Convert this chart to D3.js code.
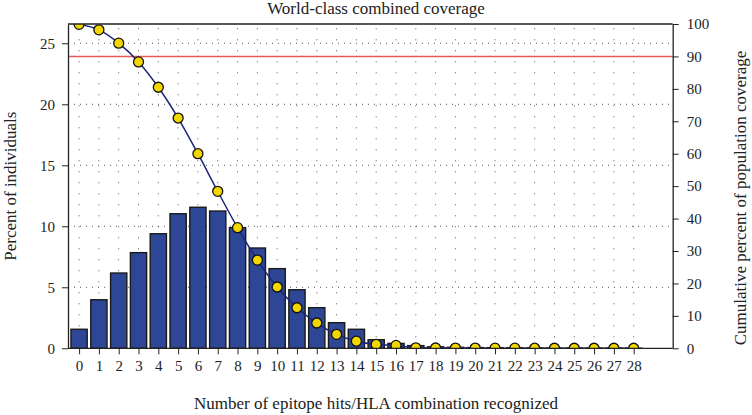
<!DOCTYPE html>
<html>
<head>
<meta charset="utf-8">
<script src="https://cdn.jsdelivr.net/npm/d3@7"></script>
<style>
  body { margin: 0; background: #fff; }
  svg { display: block; }
  text { font-family: "Liberation Serif", "DejaVu Serif", serif; fill: #222; }
</style>
</head>
<body>
<svg id="chart" width="752" height="415"></svg>
<script>
// ---- Data ----
const hits = d3.range(0, 29); // categories 0..28
const percentIndividuals = [1.56, 3.98, 6.17, 7.84, 9.39, 11.03, 11.56, 11.25, 9.89, 8.22,
  6.53, 4.80, 3.33, 2.10, 1.56, 0.70, 0.40, 0.22, 0.12, 0.08, 0.06, 0.05, 0.04, 0.03, 0.02, 0.02, 0.01, 0.01, 0.01];
const cumulativeCoverage = [99.9, 98.2, 94.1, 88.3, 80.5, 71.0, 60.0, 48.4, 37.2, 27.2,
  18.9, 12.5, 7.8, 4.3, 2.2, 1.2, 0.9, 0.15, 0.1, 0.08, 0.06, 0.05, 0.04, 0.03, 0.02, 0.02, 0.01, 0.01, 0.01];
const leftTicks = [0, 5, 10, 15, 20, 25];
const rightTicks = [0, 10, 20, 30, 40, 50, 60, 70, 80, 90, 100];
const thresholdLine = 90;
const titleText = "World-class combined coverage";
const xTitle = "Number of epitope hits/HLA combination recognized";
const yLeftTitle = "Percent of individuals";
const yRightTitle = "Cumulative percent of population coverage";

// ---- Layout ----
const svg = d3.select("#chart");
const W = 752, H = 415;
const m = { left: 68, right: W - 672.7, top: 24, bottom: H - 348.3 };
const x0 = m.left, x1 = W - m.right, y0 = H - m.bottom, y1 = m.top;

const x = d3.scaleLinear().domain([-0.56, 29.97]).range([x0, x1]);
const yL = d3.scaleLinear().domain([0, 26.58]).range([y0, y1]);
const yR = d3.scaleLinear().domain([0, 100]).range([y0, y1]);
const step = x(1) - x(0);
const barW = step * 0.82;

svg.append("defs").append("clipPath").attr("id", "plotclip")
  .append("rect").attr("x", x0).attr("y", y1).attr("width", x1 - x0).attr("height", y0 - y1);

// Grid
const grid = svg.append("g");
grid.selectAll("line.v").data(hits).join("line")
  .attr("x1", d => x(d)).attr("x2", d => x(d))
  .attr("y1", y0).attr("y2", y1)
  .attr("stroke", "#555").attr("stroke-width", 1)
  .attr("stroke-dasharray", "1,10");
grid.selectAll("line.h").data(leftTicks.filter(d => d > 0)).join("line")
  .attr("x1", x0).attr("x2", x1)
  .attr("y1", d => yL(d)).attr("y2", d => yL(d))
  .attr("stroke", "#555").attr("stroke-width", 1)
  .attr("stroke-dasharray", "1,5");

// Threshold line
svg.append("line")
  .attr("x1", x0).attr("x2", x1)
  .attr("y1", yR(thresholdLine)).attr("y2", yR(thresholdLine))
  .attr("stroke", "#e8585a").attr("stroke-width", 1.6);

// Bars
const plot = svg.append("g").attr("clip-path", "url(#plotclip)");
plot.selectAll("rect.bar").data(hits).join("rect")
  .attr("class", "bar")
  .attr("x", d => x(d) - barW / 2)
  .attr("width", barW)
  .attr("y", d => yL(percentIndividuals[d]))
  .attr("height", d => y0 - yL(percentIndividuals[d]))
  .attr("fill", "#2d4796")
  .attr("stroke", "#1a1a1a").attr("stroke-width", 1.4);

// Cumulative line
const line = d3.line()
  .x(d => x(d))
  .y(d => yR(cumulativeCoverage[d]))
  .curve(d3.curveMonotoneX);
plot.append("path").datum(hits)
  .attr("d", line)
  .attr("fill", "none")
  .attr("stroke", "#1c2678").attr("stroke-width", 1.5);

plot.selectAll("circle.pt").data(hits).join("circle")
  .attr("cx", d => x(d))
  .attr("cy", d => yR(cumulativeCoverage[d]))
  .attr("r", 5)
  .attr("fill", "#f2d600")
  .attr("stroke", "#111").attr("stroke-width", 1.3);

// Frame (top)
svg.append("line").attr("x1", x0).attr("x2", x1).attr("y1", y1).attr("y2", y1)
  .attr("stroke", "#222").attr("stroke-width", 1.3);

// Axes
const fontSize = "15px";
const axL = svg.append("g").attr("transform", `translate(${x0},0)`)
  .call(d3.axisLeft(yL).tickValues(leftTicks).tickSize(6).tickPadding(7).tickSizeOuter(0));
const axR = svg.append("g").attr("transform", `translate(${x1},0)`)
  .call(d3.axisRight(yR).tickValues(rightTicks).tickSize(6).tickPadding(8).tickSizeOuter(0));
const axB = svg.append("g").attr("transform", `translate(0,${y0})`)
  .call(d3.axisBottom(x).tickValues(hits).tickFormat(d3.format("d")).tickSize(6).tickPadding(6).tickSizeOuter(0));
[axL, axR, axB].forEach(a => {
  a.selectAll("path.domain").attr("stroke", "#222").attr("stroke-width", 1.3);
  a.selectAll(".tick line").attr("stroke", "#222").attr("stroke-width", 1);
  a.selectAll("text").attr("font-family", "Liberation Serif, serif").attr("font-size", fontSize).attr("fill", "#222");
});
axB.select("path.domain").attr("d", `M${x0},0H${x1}`);

// Titles
const tSize = "17px";
svg.append("text").attr("x", 376).attr("y", 14).attr("text-anchor", "middle")
  .attr("font-size", tSize).text(titleText);
svg.append("text").attr("x", 376).attr("y", 409).attr("text-anchor", "middle")
  .attr("font-size", tSize).text(xTitle);
svg.append("text").attr("transform", `translate(16,${(y0 + y1) / 2}) rotate(-90)`)
  .attr("text-anchor", "middle").attr("font-size", tSize).text(yLeftTitle);
svg.append("text").attr("transform", `translate(746,198) rotate(-90)`)
  .attr("text-anchor", "middle").attr("font-size", tSize).text(yRightTitle);
</script>
</body>
</html>
